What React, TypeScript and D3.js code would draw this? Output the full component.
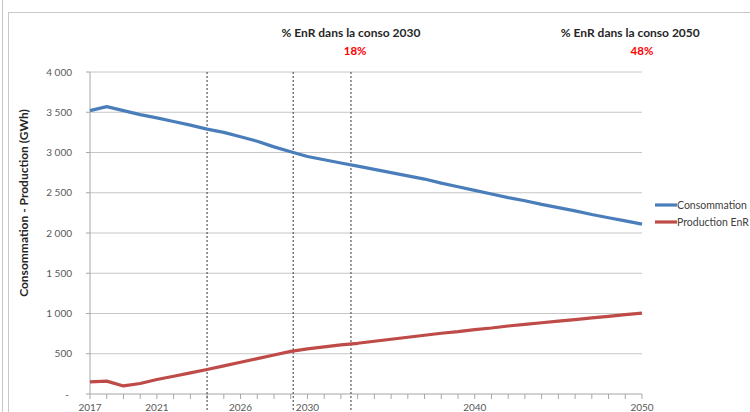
import React from "react";
import * as d3 from "d3";

const years: number[] = d3.range(2017, 2051);
const consommation: number[] = [
  3520, 3570, 3520, 3470, 3430, 3385, 3340, 3290, 3250, 3195, 3140, 3070, 3010,
  2950, 2910, 2870, 2830, 2790, 2750, 2710, 2670, 2620, 2575, 2530, 2485, 2440,
  2400, 2355, 2315, 2275, 2230, 2190, 2150, 2110,
];
const production: number[] = [
  150, 160, 100, 130, 180, 220, 262, 305, 350, 395, 440, 485, 530, 560, 585,
  610, 630, 655, 680, 705, 730, 755, 775, 800, 820, 845, 865, 885, 905, 925,
  945, 965, 985, 1005,
];
const xLabels: number[] = [2017, 2021, 2026, 2030, 2040, 2050];
const yTicks: number[] = [0, 500, 1000, 1500, 2000, 2500, 3000, 3500, 4000];
const markerYears: number[] = [2024, 2029.15, 2032.6];
const seriesNames: string[] = ["Consommation", "Production EnR"];
const seriesColors: string[] = ["#4a7ebb", "#be4b48"];
const annotations = [
  { title: "% EnR dans la conso 2030", value: "18%", at: 2032.6, valueAt: 2032.85 },
  { title: "% EnR dans la conso 2050", value: "48%", at: 2049.3, valueAt: 2050 },
];

const W = 750;
const H = 412;
const left = 90;
const right = 642;
const top = 72;
const bottom = 394;

export default function App() {
  const x = d3.scaleLinear().domain([2017, 2050]).range([left, right]);
  const y = d3.scaleLinear().domain([0, 4000]).range([bottom, top]);
  const line = d3
    .line<number>()
    .x((_, i) => x(years[i]))
    .y((d) => y(d));
  const fmt = (v: number) =>
    v === 0 ? "-" : d3.format(",")(v).replace(/,/g, " ");
  const font = "Lato, 'Open Sans', sans-serif";
  const series = [consommation, production];

  return (
    <svg
      width={W}
      height={H}
      style={{ position: "absolute", left: 0, top: 0, background: "#fff" }}
      fontFamily={font}
    >
      <rect x={0} y={0} width={W} height={H} fill="#fff" />
      {/* frames */}
      <line x1={2.5} x2={2.5} y1={0} y2={H} stroke="#c8c8c8" />
      <line x1={8.5} x2={8.5} y1={12} y2={H} stroke="#c8c8c8" />
      <line x1={8.5} x2={W} y1={12.5} y2={12.5} stroke="#c8c8c8" />

      {/* gridlines */}
      {yTicks.map((t) => (
        <g key={t}>
          <line
            x1={left}
            x2={right}
            y1={y(t)}
            y2={y(t)}
            stroke={t === 0 ? "#a6a6a6" : "#c6c6c6"}
            strokeWidth={1}
          />
          <line x1={left - 4} x2={left} y1={y(t)} y2={y(t)} stroke="#a6a6a6" />
          <text
            x={left - 18}
            y={y(t)}
            dy="0.35em"
            textAnchor="end"
            fontSize={10}
            fill="#595959"
            dx={t === 0 ? -3 : 0}
          >
            {fmt(t)}
          </text>
        </g>
      ))}
      {/* y axis line */}
      <line x1={left} x2={left} y1={top} y2={bottom} stroke="#a6a6a6" />
      {/* x ticks */}
      {years.map((yr) => (
        <line
          key={yr}
          x1={x(yr)}
          x2={x(yr)}
          y1={bottom}
          y2={bottom + 5}
          stroke="#a6a6a6"
        />
      ))}
      {xLabels.map((yr) => (
        <text
          key={yr}
          x={x(yr)}
          y={bottom + 17}
          textAnchor="middle"
          fontSize={10}
          fill="#595959"
        >
          {yr}
        </text>
      ))}

      {/* marker dotted lines */}
      {markerYears.map((m, i) => (
        <line
          key={i}
          x1={x(m)}
          x2={x(m)}
          y1={top}
          y2={H}
          stroke="#595959"
          strokeWidth={1.2}
          strokeDasharray="2,2"
        />
      ))}

      {/* series */}
      {series.map((s, i) => (
        <path
          key={i}
          d={line(s) || ""}
          fill="none"
          stroke={seriesColors[i]}
          strokeWidth={3.2}
          strokeLinejoin="round"
        />
      ))}

      {/* y title */}
      <text
        transform={`translate(28, 203) rotate(-90)`}
        textAnchor="middle"
        fontSize={12}
        fontWeight="bold"
        fill="#262626"
      >
        Consommation - Production (GWh)
      </text>

      {/* annotations */}
      {annotations.map((a, i) => (
        <g key={i}>
          <text
            x={x(a.at)}
            y={37}
            textAnchor="middle"
            fontSize={12}
            fontWeight="bold"
            fill="#262626"
          >
            {a.title}
          </text>
          <text
            x={x(a.valueAt)}
            y={55}
            textAnchor="middle"
            fontSize={11.5}
            fontWeight="bold"
            fill="#ff0000"
          >
            {a.value}
          </text>
        </g>
      ))}

      {/* legend */}
      {seriesNames.map((n, i) => (
        <g key={n} transform={`translate(655, ${205 + i * 17})`}>
          <line x1={0} x2={22} y1={0} y2={0} stroke={seriesColors[i]} strokeWidth={3.2} />
          <text x={22} y={0} dy="0.35em" fontSize={10.5} fill="#404040">
            {n}
          </text>
        </g>
      ))}
    </svg>
  );
}
